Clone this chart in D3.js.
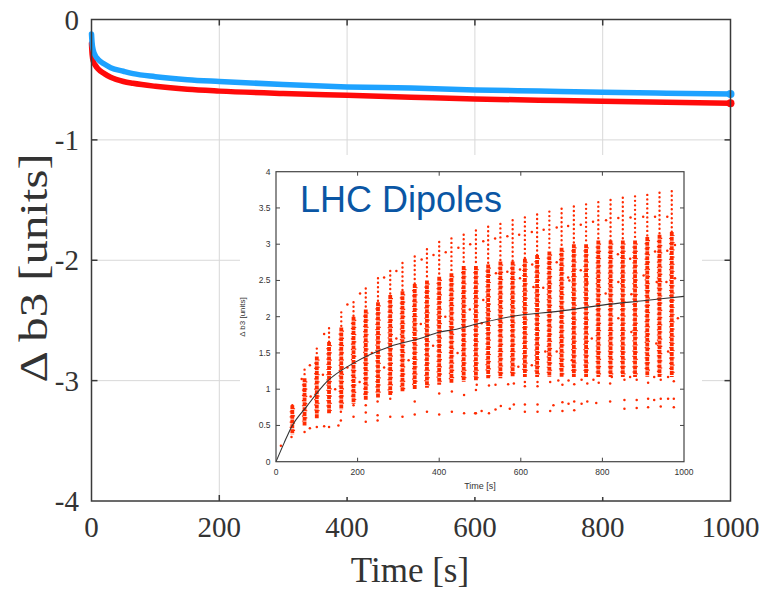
<!DOCTYPE html>
<html><head><meta charset="utf-8">
<script src="https://cdn.jsdelivr.net/npm/d3@7"></script>
<style>body{margin:0;background:#fff}</style>
</head><body>
<script>
// ---------- main chart data ----------
const mainTimes = [0,1,3,6,10,20,30,50,65,100,150,200,300,400,500,600,700,800,900,1000];
const blueB3 = [-0.12,-0.2,-0.26,-0.3,-0.33,-0.37,-0.4,-0.43,-0.45,-0.475,-0.5,-0.515,-0.54,-0.56,-0.57,-0.585,-0.595,-0.605,-0.612,-0.618];
const redB3  = [-0.2,-0.29,-0.35,-0.38,-0.41,-0.45,-0.48,-0.515,-0.53,-0.555,-0.58,-0.595,-0.615,-0.63,-0.645,-0.66,-0.67,-0.68,-0.688,-0.695];
const mainXTicks = [0,200,400,600,800,1000];
const mainYTicks = [0,-1,-2,-3,-4];

// ---------- inset data ----------
const colTimes   = [40,70,100,130,160,190,220,250,280,310,340,370,400,430,460,490,520,550,580,610,640,670,700,730,760,790,820,850,880,910,940,970];
const colTop     = [0.78,1.27,1.56,1.84,2.06,2.2,2.39,2.53,2.63,2.74,2.83,2.93,3.03,3.08,3.13,3.19,3.24,3.28,3.33,3.37,3.41,3.45,3.49,3.52,3.55,3.58,3.61,3.64,3.66,3.68,3.71,3.73];
const colDenseHi = [0.78,1.15,1.45,1.65,1.85,2.0,2.1,2.2,2.3,2.35,2.45,2.5,2.55,2.6,2.7,2.7,2.72,2.76,2.76,2.8,2.85,2.9,2.95,3.0,3.0,3.05,3.05,3.05,3.05,3.1,3.13,3.17];
const colDenseLo = [0.38,0.5,0.6,0.66,0.72,0.8,0.85,0.88,0.92,0.97,1.0,1.02,1.06,1.08,1.1,1.12,1.15,1.15,1.17,1.17,1.17,1.17,1.17,1.17,1.17,1.17,1.17,1.17,1.17,1.17,1.17,1.17];
const insetPts = [
 [12,0.22],[38,0.34],[70,0.41],[83,0.46],[100,0.48],[118,0.49],[130,0.48],[153,0.5],[159,0.57],[190,0.62],[220,0.55],[220,0.68],[249,0.57],[249,0.64],[280,0.62],[310,0.62],[340,0.65],[370,0.69],[400,0.65],[431,0.69],[461,0.67],[490,0.67],
 [159,0.69],[190,0.78],[220,0.78],[249,0.83],[280,0.87],[340,0.83],[400,0.94],[431,0.97],[461,0.92],[490,0.99],
 [488,0.67],[504,0.7],[522,0.67],[538,0.72],[551,0.77],[573,0.73],[583,0.79],[610,0.79],[610,0.69],[641,0.79],[641,0.69],[672,0.7],[680,0.78],[702,0.82],[702,0.7],[717,0.8],[731,0.83],[731,0.71],[749,0.8],[763,0.83],[785,0.81],[819,0.83],[854,0.85],[854,0.73],[884,0.85],[884,0.74],[912,0.87],[912,0.75],[927,0.85],[943,0.87],[943,0.76],[961,0.87],[975,0.87],[975,0.75],
 [492,1.06],[522,1.05],[538,1.06],[569,1.07],[583,1.08],[610,1.1],[610,1.04],[641,1.1],[641,1.04],[672,1.1],[692,1.12],[702,1.06],[717,1.12],[731,1.07],[749,1.13],[763,1.08],[778,1.13],[791,1.09],[819,1.08],[823,1.17],[854,1.13],[868,1.17],[884,1.13],[912,1.09],[927,1.17],[943,1.13],[961,1.17],[975,1.11],
 [63,1.14],[83,1.33],[118,1.76],[175,2.17],[206,2.32],[265,2.54],[295,2.63],[357,2.79],[386,2.85],[416,2.89],[447,2.95],[476,3.0],[508,3.04],[537,3.08],[567,3.11],[596,3.13],[627,3.17],[656,3.2],[688,3.23],[716,3.25],[747,3.27],[777,3.31],[809,3.33],[839,3.36],[869,3.37],[900,3.38],[929,3.38],[959,3.38],
 [508,2.23],[539,2.6],[567,2.62],[598,2.65],[628,2.72],[688,2.75],[716,2.54],[747,2.64],[838,2.86],[868,2.8],[929,2.9],[959,2.91],[978,2.99],
 [598,2.53],[631,2.41],[655,2.4],[719,2.5],[763,2.48],[808,2.32],[839,2.48],[871,2.31],[901,2.57],[933,2.48],[957,2.48],[978,2.53],
 [504,1.91],[594,1.31],[627,1.33],[660,1.52],[688,1.52],[725,1.4],[774,1.7],[839,1.98],[871,1.79],[932,1.63],[985,1.98],[961,1.52],
 [85,0.9],[115,1.2],[145,1.0],[175,1.3],[205,1.1],[235,1.5],[265,1.3],[295,1.7],[325,1.4],[355,1.9],[385,1.6],[415,2.0],[445,1.5],[475,2.1]
];
const fitTimes = [0,20,38,75,124,190,280,353,402,435,500,574,700,800,900,1000];
const fitB3    = [0,0.26,0.48,0.76,1.1,1.36,1.59,1.7,1.79,1.82,1.91,2.0,2.08,2.16,2.22,2.28];
const insetXTicks = [0,200,400,600,800,1000];
const insetYTicks = [0,0.5,1,1.5,2,2.5,3,3.5,4];

// ---------- drawing ----------
const W = 763, H = 590;
const svg = d3.select("body").append("svg").attr("width", W).attr("height", H);
const serif = "'Liberation Serif','Times New Roman',serif";
const sans = "'Liberation Sans',Arial,Helvetica,sans-serif";

const x = d3.scaleLinear().domain([0,1000]).range([91.5,730.5]);
const y = d3.scaleLinear().domain([-4,0]).range([501,19.5]);

// grid
const grid = svg.append("g").attr("stroke","#d8d8d8").attr("stroke-width",1);
mainXTicks.slice(1,-1).forEach(t => grid.append("line").attr("x1",x(t)).attr("x2",x(t)).attr("y1",y(0)).attr("y2",y(-4)));
mainYTicks.slice(1,-1).forEach(v => grid.append("line").attr("x1",x(0)).attr("x2",x(1000)).attr("y1",y(v)).attr("y2",y(v)));

// curves
const mline = d3.line().x((d,i)=>x(mainTimes[i])).y(d=>y(d)).curve(d3.curveMonotoneX);
svg.append("path").attr("d", mline(redB3)).attr("fill","none").attr("stroke","#ff0a0a").attr("stroke-width",5.5).attr("stroke-linecap","round");
svg.append("path").attr("d", mline(blueB3)).attr("fill","none").attr("stroke","#1ea2ff").attr("stroke-width",5.5).attr("stroke-linecap","round");
svg.append("circle").attr("cx",x(1000)).attr("cy",y(redB3[redB3.length-1])).attr("r",4).attr("fill","#ff0a0a");
svg.append("circle").attr("cx",x(1000)).attr("cy",y(blueB3[blueB3.length-1])).attr("r",4).attr("fill","#1ea2ff");

// frame + ticks
svg.append("rect").attr("x",x(0)).attr("y",y(0)).attr("width",x(1000)-x(0)).attr("height",y(-4)-y(0))
  .attr("fill","none").attr("stroke","#3a3a3a").attr("stroke-width",1.5);
const tk = svg.append("g").attr("stroke","#3a3a3a").attr("stroke-width",1.5);
mainXTicks.slice(1,-1).forEach(t => {
  tk.append("line").attr("x1",x(t)).attr("x2",x(t)).attr("y1",y(-4)).attr("y2",y(-4)-6);
  tk.append("line").attr("x1",x(t)).attr("x2",x(t)).attr("y1",y(0)).attr("y2",y(0)+6);
});
mainYTicks.slice(1,-1).forEach(v => {
  tk.append("line").attr("x1",x(0)).attr("x2",x(0)+6).attr("y1",y(v)).attr("y2",y(v));
  tk.append("line").attr("x1",x(1000)).attr("x2",x(1000)-6).attr("y1",y(v)).attr("y2",y(v));
});
// tick labels
svg.append("g").selectAll("text").data(mainXTicks).join("text")
  .attr("x",d=>x(d)).attr("y",537).attr("text-anchor","middle")
  .attr("font-family",serif).attr("font-size",29).attr("fill","#333").text(d=>d);
svg.append("g").selectAll("text").data(mainYTicks).join("text")
  .attr("x",79).attr("y",d=>y(d)+10).attr("text-anchor","end")
  .attr("font-family",serif).attr("font-size",29).attr("fill","#333").text(d=>d);
svg.append("text").attr("x",410).attr("y",582).attr("text-anchor","middle")
  .attr("font-family",serif).attr("font-size",35).attr("fill","#333").text("Time [s]");
svg.append("text").attr("transform","translate(47,268) rotate(-90) scale(1.22,1)").attr("text-anchor","middle")
  .attr("font-family",serif).attr("font-size",40).attr("fill","#333").text("Δ b3 [units]");

// ---------- inset ----------
svg.append("rect").attr("x",240).attr("y",155).attr("width",462).attr("height",342).attr("fill","#fff");
const ix = d3.scaleLinear().domain([0,1000]).range([276,684]);
const iy = d3.scaleLinear().domain([0,4]).range([461.7,171.7]);
const red = "#ff2a00";
const ig = svg.append("g");
// columns: sparse upper part
ig.selectAll("line.sp").data(colTimes).join("line").attr("class","sp")
  .attr("x1",d=>ix(d)).attr("x2",d=>ix(d)).attr("y1",(d,i)=>iy(colTop[i])).attr("y2",(d,i)=>iy(colDenseHi[i]))
  .attr("stroke",red).attr("stroke-width",2.4).attr("stroke-linecap","round").attr("stroke-dasharray","0,4.5");
// columns: dense part
ig.selectAll("line.dn").data(colTimes).join("line").attr("class","dn")
  .attr("x1",d=>ix(d)).attr("x2",d=>ix(d)).attr("y1",(d,i)=>iy(colDenseHi[i])).attr("y2",(d,i)=>iy(colDenseLo[i]))
  .attr("stroke",red).attr("stroke-width",3.8).attr("stroke-dasharray","4,0.8");
ig.selectAll("line.dn2").data(colTimes).join("line").attr("class","dn2")
  .attr("x1",d=>ix(d)-2).attr("x2",d=>ix(d)-2).attr("y1",(d,i)=>iy(colDenseHi[i])+6).attr("y2",(d,i)=>iy(colDenseLo[i])-4)
  .attr("stroke",red).attr("stroke-width",1.3).attr("stroke-dasharray","1.2,4");
ig.selectAll("line.dn3").data(colTimes).join("line").attr("class","dn3")
  .attr("x1",d=>ix(d)+2.1).attr("x2",d=>ix(d)+2.1).attr("y1",(d,i)=>iy(colDenseHi[i])+3).attr("y2",(d,i)=>iy(colDenseLo[i])-2)
  .attr("stroke",red).attr("stroke-width",1.3).attr("stroke-dasharray","1.2,6");
// scattered points
ig.selectAll("circle").data(insetPts).join("circle")
  .attr("cx",d=>ix(d[0])).attr("cy",d=>iy(d[1])).attr("r",1.25).attr("fill",red);
// fit curve
svg.append("path").attr("d", d3.line().x((d,i)=>ix(fitTimes[i])).y(d=>iy(d)).curve(d3.curveMonotoneX)(fitB3))
  .attr("fill","none").attr("stroke","#333").attr("stroke-width",1.1);
// inset frame & ticks
svg.append("rect").attr("x",ix(0)).attr("y",iy(4)).attr("width",ix(1000)-ix(0)).attr("height",iy(0)-iy(4))
  .attr("fill","none").attr("stroke","#444").attr("stroke-width",1.2);
const itk = svg.append("g").attr("stroke","#444").attr("stroke-width",1);
insetXTicks.slice(1,-1).forEach(t => {
  itk.append("line").attr("x1",ix(t)).attr("x2",ix(t)).attr("y1",iy(0)).attr("y2",iy(0)-4);
  itk.append("line").attr("x1",ix(t)).attr("x2",ix(t)).attr("y1",iy(4)).attr("y2",iy(4)+4);
});
insetYTicks.slice(1,-1).forEach(v => {
  itk.append("line").attr("x1",ix(0)).attr("x2",ix(0)+4).attr("y1",iy(v)).attr("y2",iy(v));
  itk.append("line").attr("x1",ix(1000)).attr("x2",ix(1000)-4).attr("y1",iy(v)).attr("y2",iy(v));
});
svg.append("g").selectAll("text").data(insetXTicks).join("text")
  .attr("x",d=>ix(d)).attr("y",475).attr("text-anchor","middle")
  .attr("font-family",sans).attr("font-size",8.5).attr("fill","#333").text(d=>d);
svg.append("g").selectAll("text").data(insetYTicks).join("text")
  .attr("x",270.5).attr("y",d=>iy(d)+3).attr("text-anchor","end")
  .attr("font-family",sans).attr("font-size",8.5).attr("fill","#333").text(d=>d);
svg.append("text").attr("x",480).attr("y",489).attr("text-anchor","middle")
  .attr("font-family",sans).attr("font-size",9).attr("fill","#333").text("Time [s]");
svg.append("text").attr("transform","translate(245,317) rotate(-90)").attr("text-anchor","middle")
  .attr("font-family",sans).attr("font-size",8).attr("fill","#333").text("Δ b3 [units]");
svg.append("text").attr("x",300).attr("y",212).attr("font-family",sans).attr("font-size",36)
  .attr("fill","#0a56a4").text("LHC Dipoles");
</script>
</body></html>
